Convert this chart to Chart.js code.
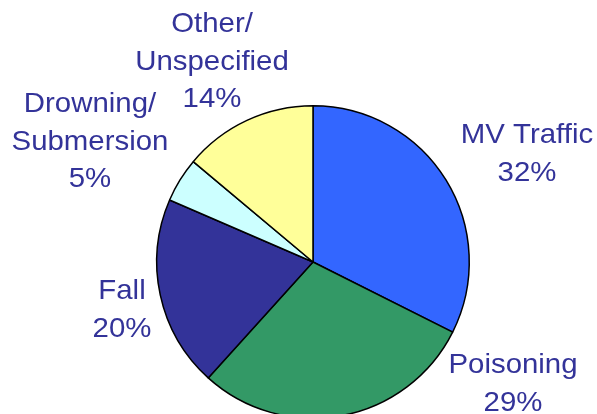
<!DOCTYPE html>
<html>
<head>
<meta charset="utf-8">
<script src="https://cdn.jsdelivr.net/npm/chart.js@4"></script>
<style>
  html, body { margin: 0; padding: 0; background: #fff; overflow: hidden; }
  #wrap { position: relative; width: 597px; height: 430px; }
</style>
</head>
<body>
<div id="wrap"><canvas id="injuries" width="597" height="430"></canvas></div>
<script>
// Causes of injury death, share in percent
const categories = ['MV Traffic', 'Poisoning', 'Fall', 'Drowning/Submersion', 'Other/Unspecified'];
const labelLines = [['MV Traffic'], ['Poisoning'], ['Fall'], ['Drowning/', 'Submersion'], ['Other/', 'Unspecified']];
const shares = [32.4, 29.3, 19.8, 4.6, 13.9];
const sliceColors = ['#3366FF', '#339966', '#333399', '#CCFFFF', '#FFFF99'];

// where each label block sits (x centre, first baseline)
const labelAnchors = [[527, 143], [513, 373], [122, 299], [90, 112], [212, 32]];

const ctx = document.getElementById('injuries').getContext('2d');

const pieLabels = {
    id: 'pieLabels',
    afterDraw(chart) {
        const c = chart.ctx;
        const data = chart.data.datasets[0].data;
        const total = data.reduce((a, b) => a + b, 0);
        c.save();
        c.fillStyle = '#333399';
        c.font = '28px "Liberation Sans", Arial, sans-serif';
        c.textAlign = 'center';
        c.textBaseline = 'alphabetic';
        data.forEach((v, i) => {
            const lines = labelLines[i].concat([Math.round(v / total * 100) + '%']);
            const [x, y] = labelAnchors[i];
            lines.forEach((t, j) => {
                c.save();
                c.translate(x, y + j * 37.5);
                c.scale(1.05, 1); // source text is a touch wide
                c.fillText(t, 0, 0);
                c.restore();
            });
        });
        c.restore();
    }
};

new Chart(ctx, {
    type: 'pie',
    data: {
        labels: categories,
        datasets: [{
            data: shares,
            backgroundColor: sliceColors,
            borderColor: '#000000',
            borderWidth: 1.5,
            hoverOffset: 0
        }]
    },
    options: {
        responsive: false,
        animation: false,
        events: [],
        layout: { padding: { left: 156, right: 127, top: 105, bottom: 11 } },
        plugins: {
            legend: { display: false },
            tooltip: { enabled: false }
        }
    },
    plugins: [pieLabels]
});
</script>
</body>
</html>
